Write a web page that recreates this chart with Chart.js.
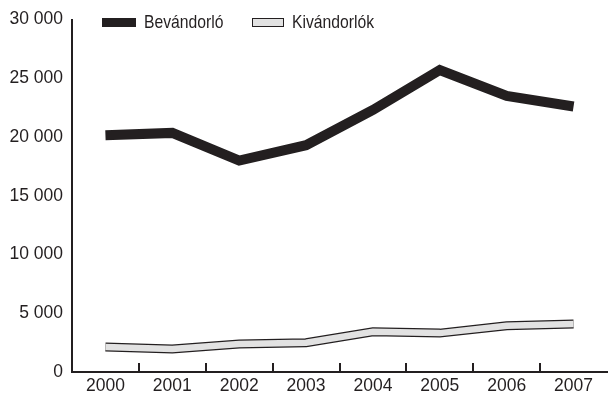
<!DOCTYPE html>
<html>
<head>
<meta charset="utf-8">
<script src="https://cdn.jsdelivr.net/npm/chart.js@4"></script>
<style>
  html, body { margin: 0; padding: 0; background: #fff; }
  #wrap { position: relative; width: 608px; height: 397px; }
  #legend { position: absolute; top: 11px; left: 102px; font: 18.5px "Liberation Sans", Arial, sans-serif; color: #231f20; }
  .item { position: absolute; top: 0; display: flex; align-items: center; white-space: nowrap; }
  .sw { flex: 0 0 auto; width: 34px; height: 9px; margin-right: 8px; box-sizing: border-box; }
  .txt { display: inline-block; transform: scaleX(0.85); transform-origin: left center; }
</style>
</head>
<body>
<div id="wrap">
  <canvas id="chart" width="608" height="397"></canvas>
  <div id="legend">
    <div class="item" style="left:0"><span class="sw" style="background:#231f20"></span><span class="txt">Bevándorló</span></div>
    <div class="item" style="left:150px"><span class="sw" style="width:32px;background:#e2e2e2;border:1.5px solid #231f20"></span><span class="txt">Kivándorlók</span></div>
  </div>
</div>
<script>
// Data
const years = ['2000', '2001', '2002', '2003', '2004', '2005', '2006', '2007'];
const immigrants = [20150, 20350, 18000, 19300, 22300, 25700, 23500, 22600];
const emigrants = [2120, 1950, 2380, 2490, 3420, 3310, 3930, 4080];
const yTicks = [0, 5000, 10000, 15000, 20000, 25000, 30000];

const ink = '#231f20';
const font = { family: '"Liberation Sans", Arial, sans-serif', size: 17.5 };

// small tick marks pointing up from the x axis, between categories
const innerTicks = {
    id: 'innerTicks',
    afterDraw(chart) {
        const x = chart.scales.x, y = chart.scales.y;
        const ctx = chart.ctx;
        const half = (x.getPixelForValue(1) - x.getPixelForValue(0)) / 2;
        ctx.save();
        ctx.strokeStyle = ink;
        ctx.lineWidth = 2;
        for (let i = 1; i < years.length; i++) {
            const px = Math.round(x.getPixelForValue(i) - half);
            ctx.beginPath();
            ctx.moveTo(px, y.bottom);
            ctx.lineTo(px, y.bottom - 9);
            ctx.stroke();
        }
        ctx.restore();
    }
};

const lineStyle = { borderJoinStyle: 'miter', borderCapStyle: 'butt', pointRadius: 0, tension: 0 };

new Chart(document.getElementById('chart'), {
    type: 'line',
    data: {
        labels: years,
        datasets: [
            Object.assign({ label: 'Kivándorlók', data: emigrants, borderColor: '#e2e2e2', borderWidth: 6.5, order: 0 }, lineStyle),
            Object.assign({ label: 'Kivándorlók (outline)', data: emigrants, borderColor: ink, borderWidth: 9, order: 1 }, lineStyle),
            Object.assign({ label: 'Bevándorló', data: immigrants, borderColor: ink, borderWidth: 10, order: 2 }, lineStyle)
        ]
    },
    options: {
        responsive: false,
        animation: false,
        layout: { padding: { left: 0, top: 19, right: 1, bottom: 0 } },
        plugins: { legend: { display: false }, tooltip: { enabled: false } },
        scales: {
            x: {
                offset: true,
                grid: { display: true, offset: true, drawOnChartArea: false, drawTicks: false },
                border: { display: true, color: ink, width: 2 },
                ticks: { color: ink, font: font, padding: 4, maxRotation: 0 },
                afterFit(scale) { scale.height = 25; }
            },
            y: {
                min: 0,
                max: 30000,
                afterBuildTicks(scale) { scale.ticks = yTicks.map(v => ({ value: v })); },
                grid: { display: true, drawOnChartArea: false, drawTicks: false },
                border: { display: true, color: ink, width: 2 },
                ticks: {
                    color: ink,
                    font: font,
                    padding: 9,
                    callback: v => String(v).replace(/\B(?=(\d{3})+(?!\d))/g, ' ')
                },
                afterFit(scale) { scale.width = 72; }
            }
        }
    },
    plugins: [innerTicks]
});
</script>
</body>
</html>
